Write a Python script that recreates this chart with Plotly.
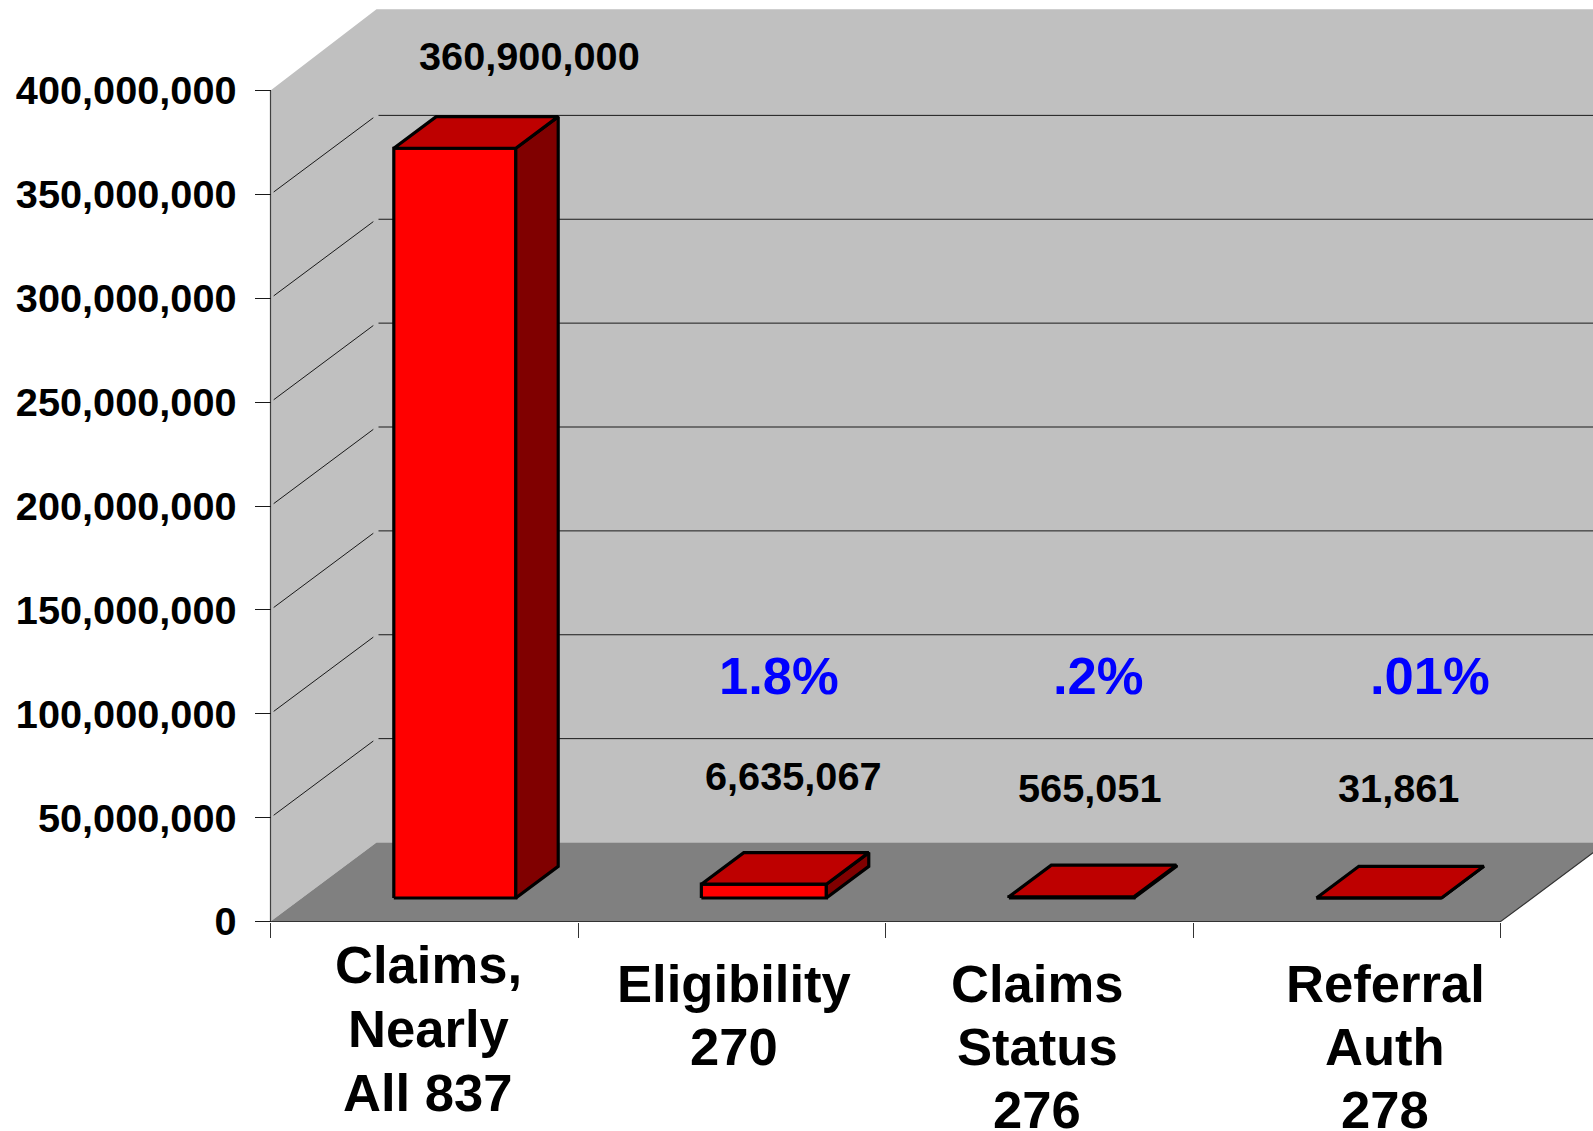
import plotly.graph_objects as go

# Chart data
categories = [["Claims,", "Nearly", "All 837"], ["Eligibility", "270"], ["Claims", "Status", "276"], ["Referral", "Auth", "278"]]
transactions = [360900000, 6635067, 565051, 31861]
value_labels = ["360,900,000", "6,635,067", "565,051", "31,861"]
share_labels = ["", "1.8%", ".2%", ".01%"]
y_ticks = list(range(0, 400000001, 50000000))

# Canvas and oblique projection
W, H = 1593, 1131
X0_PX, Y0_PX = 270.5, 921.5          # origin of the front plane
CAT_PX = 307.55                      # width of one category
Y_PX = 831.0 / 400000000             # pixels per transaction
DEPTH_X = 106.0 / CAT_PX             # full depth shift along x, in categories
DEPTH_Y = 79.0 / Y_PX                # full depth shift along y, in transactions
WALL_PAD = 2.2 / Y_PX                # small overshoot of the wall's top edge
N = len(categories)

BAR_LEFT_OFFSET = -62.0 / CAT_PX     # bar left edge relative to the category centre
BAR_WIDTHS = [122.0 / CAT_PX, 125.0 / CAT_PX, 125.0 / CAT_PX, 125.0 / CAT_PX]
BAR_D0, BAR_D1 = 0.2975, 0.6975      # bar footprint in the depth direction

WALL, FLOOR = "#C0C0C0", "#808080"
FRONT, TOP, SIDE = "#FF0000", "#BE0000", "#800000"
FONT = "Liberation Sans"
TICK_SIZE, CAT_SIZE = 39.7, 52.6


def project(x, y, d=0.0):
    return x + d * DEPTH_X, y + d * DEPTH_Y


def poly(points, fill=None, line=None, width=1.0):
    xs = [p[0] for p in points]
    ys = [p[1] for p in points]
    if fill:
        xs.append(xs[0])
        ys.append(ys[0])
    return go.Scatter(
        x=xs, y=ys, mode="lines", hoverinfo="skip", showlegend=False,
        fill="toself" if fill else None, fillcolor=fill,
        line=dict(color=line or "rgba(0,0,0,0)", width=width if line else 0),
    )


top_val = max(y_ticks)
traces = []

# Side wall, back wall and floor
traces.append(poly([project(0, 0), project(0, top_val), project(0, top_val + WALL_PAD, 1),
                    project(N, top_val + WALL_PAD, 1), project(N, 0, 1), project(0, 0, 1)], fill=WALL))
traces.append(poly([project(0, 0), project(N, 0), project(N, 0, 1), project(0, 0, 1)], fill=FLOOR))
traces.append(poly([project(0, 0), project(N, 0), project(N, 0, 1)], line="#333333", width=1.2))
traces.append(poly([project(0, 0), project(0, top_val)], line="#404040", width=1.2))

# Gridlines on the side wall and the back wall
GRID_GAP = 2.0 / CAT_PX
for v in y_ticks[1:-1]:
    traces.append(poly([project(0, v, 0.03), project(0, v, 0.97)], line="#1a1a1a", width=1))
    start = project(0, v, 1)
    traces.append(poly([(start[0] + GRID_GAP, start[1]), project(N, v, 1)], line="#1a1a1a", width=1))

# Bars
for i, (v, bw) in enumerate(zip(transactions, BAR_WIDTHS)):
    left = i + 0.5 + BAR_LEFT_OFFSET
    right = left + bw
    a = project(left, 0, BAR_D0)
    b = project(right, 0, BAR_D0)
    c = project(right, v, BAR_D0)
    d = project(left, v, BAR_D0)
    e = project(right, 0, BAR_D1)
    f = project(right, v, BAR_D1)
    g = project(left, v, BAR_D1)
    traces.append(poly([a, b, c, d], fill=FRONT, line="black", width=3.2))
    traces.append(poly([b, e, f, c], fill=SIDE, line="black", width=3.2))
    traces.append(poly([d, c, f, g], fill=TOP, line="black", width=3.2))

fig = go.Figure(traces)


def px_x(px):
    return (px - X0_PX) / CAT_PX


def px_y(py):
    return (Y0_PX - py) / Y_PX


def label(text, x_px, y_px, size, color="black", box_height=None):
    fig.add_annotation(
        x=px_x(x_px), y=px_y(y_px), text=text, showarrow=False, xref="x", yref="y",
        xanchor="center", yanchor="middle", height=box_height, valign="middle",
        font=dict(family=FONT, size=size, color=color),
    )


# Category names, one annotation per line to hold the tight leading;
# lines at the foot of the page use a shorter box so it stays on the canvas
cat_centres = [428, 733.5, 1037, 1385]
cat_first_line = [964.5, 983, 983, 983]
cat_leading = [64, 63, 63, 63]
for lines, cx, y0, lead in zip(categories, cat_centres, cat_first_line, cat_leading):
    for k, t in enumerate(lines):
        y = y0 + k * lead
        label(f"<b>{t}</b>", cx, y, CAT_SIZE, box_height=42 if y > 1100 else None)

# Value and share labels above the bars
value_pos = [(529.6, 56), (793.5, 776), (1089, 788), (1398, 788)]
for t, (x, y) in zip(value_labels, value_pos):
    label(f"<b>{t}</b>", x, y, TICK_SIZE)

share_pos = [None, (779, 675), (1098, 675), (1429.5, 675)]
for t, pos in zip(share_labels, share_pos):
    if pos:
        label(f"<b>{t}</b>", pos[0], pos[1], CAT_SIZE, color="#0000FF")

fig.update_layout(
    width=W, height=H, autosize=False,
    margin=dict(l=0, r=0, t=0, b=0, pad=0),
    paper_bgcolor="white", plot_bgcolor="white", showlegend=False,
    xaxis=dict(
        range=[px_x(0), px_x(W)], domain=[0, 1], anchor="free", position=(H - Y0_PX) / H,
        tickmode="array", tickvals=list(range(N + 1)), ticktext=[""] * (N + 1),
        ticks="outside", ticklen=15, tickwidth=1.2, tickcolor="#333333",
        showgrid=False, zeroline=False, showline=False,
    ),
    yaxis=dict(
        range=[px_y(H), px_y(0)], domain=[0, 1], anchor="free", position=X0_PX / W,
        tickmode="array", tickvals=y_ticks, ticktext=[f"<b>{v:,}</b>" for v in y_ticks],
        ticks="outside", ticklen=16, tickwidth=1.2, tickcolor="#1a1a1a",
        tickfont=dict(family=FONT, size=TICK_SIZE, color="black"), ticklabelstandoff=10,
        showgrid=False, zeroline=False, showline=False,
    ),
)

fig.write_html("out.html", config={"displayModeBar": False})
